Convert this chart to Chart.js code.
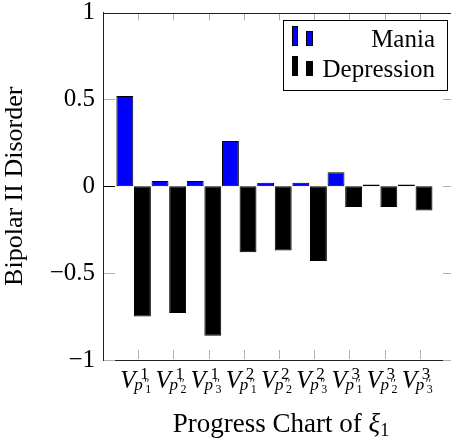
<!DOCTYPE html>
<html>
<head>
<meta charset="utf-8">
<script src="https://cdn.jsdelivr.net/npm/chart.js@4.4.0/dist/chart.umd.min.js"></script>
<style>
  html, body { margin: 0; padding: 0; background: #fff; overflow: hidden; }
  #wrap { width: 451px; height: 443px; overflow: hidden; }
</style>
</head>
<body>
<div id="wrap"><canvas id="barChart" width="460" height="443"></canvas></div>
<script>
// category labels V^{sup}_{p''_{sub}}
const categorySup = ['1', '1', '1', '2', '2', '2', '3', '3', '3'];
const categorySub = ['1', '2', '3', '1', '2', '3', '1', '2', '3'];
const positions = [1, 2, 3, 4, 5, 6, 7, 8, 9];

const maniaValues = [0.52, 0.03, 0.03, 0.26, 0.02, 0.02, 0.08, 0.01, 0.01];
const depressionValues = [-0.75, -0.73, -0.86, -0.38, -0.37, -0.43, -0.12, -0.12, -0.14];

const yTicks = [-1, -0.5, 0, 0.5, 1];

const serif = '"Liberation Serif", "DejaVu Serif", serif';
const tickShift = 0.13; // ticks sit a little right of the bar pairs

function line(ctx, x1, y1, x2, y2) {
    ctx.beginPath();
    ctx.moveTo(x1, y1);
    ctx.lineTo(x2, y2);
    ctx.stroke();
}

const decorations = {
    id: 'decorations',
    afterDraw(chart) {
        const { ctx, chartArea: a, scales: { x, y } } = chart;
        ctx.save();
        ctx.lineWidth = 1;

        // inward tick marks
        positions.forEach(p => {
            const px = Math.round(x.getPixelForValue(p + tickShift)) + 0.5;
            ctx.strokeStyle = '#b0b0b0';
            line(ctx, px, a.bottom - 1, px, a.bottom - 10);
            line(ctx, px, a.top + 1, px, a.top + 8);
        });
        yTicks.forEach(v => {
            const py = Math.round(y.getPixelForValue(v)) + 0.5;
            ctx.strokeStyle = v === 0 ? '#000' : '#b0b0b0';
            line(ctx, a.left + 1, py, a.left + 12, py);
            ctx.strokeStyle = '#b0b0b0';
            line(ctx, a.right - 1, py, a.right - 12, py);
        });

        // top frame line
        ctx.strokeStyle = '#222';
        line(ctx, a.left, Math.round(a.top) + 0.5, a.right, Math.round(a.top) + 0.5);
        line(ctx, Math.round(a.right) + 0.5, a.top, Math.round(a.right) + 0.5, a.bottom);

        // x tick labels
        ctx.fillStyle = '#000';
        ctx.textAlign = 'left';
        ctx.textBaseline = 'alphabetic';
        positions.forEach((p, i) => {
            const px = x.getPixelForValue(p + tickShift);
            const b = a.bottom;
            ctx.font = 'italic 25px ' + serif;
            ctx.fillText('V', px - 18, b + 28);
            ctx.font = '17px ' + serif;
            ctx.fillText(categorySup[i], px + 2, b + 19);
            ctx.font = 'italic 17px ' + serif;
            ctx.fillText('p', px - 4, b + 30);
            ctx.font = '12px ' + serif;
            ctx.fillText('′′', px + 6, b + 27);
            ctx.fillText(categorySub[i], px + 7, b + 33);
        });

        // x axis title
        const t1 = 'Progress Chart of ';
        ctx.font = '27px ' + serif;
        const w1 = ctx.measureText(t1).width;
        ctx.font = 'italic 27px ' + serif;
        const w2 = ctx.measureText('ξ').width;
        ctx.font = '18px ' + serif;
        const w3 = ctx.measureText('1').width;
        let tx = (a.left + a.right) / 2 + 2 - (w1 + w2 + w3) / 2;
        const ty = a.bottom + 72;
        ctx.font = '27px ' + serif;
        ctx.fillText(t1, tx, ty);
        tx += w1;
        ctx.font = 'italic 27px ' + serif;
        ctx.fillText('ξ', tx, ty);
        tx += w2;
        ctx.font = '18px ' + serif;
        ctx.fillText('1', tx, ty + 4);

        // legend
        const lx = 283, ly = 20, lw = 164, lh = 70;
        ctx.fillStyle = '#fff';
        ctx.fillRect(lx, ly, lw, lh);
        ctx.strokeStyle = '#000';
        ctx.strokeRect(lx + 0.5, ly + 0.5, lw, lh);
        const rows = [
            { label: 'Mania', color: '#0000ff', y: ly },
            { label: 'Depression', color: '#000', y: ly + 30 }
        ];
        rows.forEach(r => {
            ctx.fillStyle = r.color;
            ctx.strokeStyle = '#000';
            ctx.fillRect(lx + 9, r.y + 6, 6, 20);
            ctx.strokeRect(lx + 9.5, r.y + 6.5, 5, 19);
            ctx.fillRect(lx + 23, r.y + 11, 7, 15);
            ctx.strokeRect(lx + 23.5, r.y + 11.5, 6, 14);
            ctx.fillStyle = '#000';
            ctx.font = '25px ' + serif;
            ctx.textAlign = 'right';
            ctx.fillText(r.label, lx + lw - 12, r.y + 27);
        });
        ctx.restore();
    }
};

function draw() {
    new Chart(document.getElementById('barChart'), {
        type: 'bar',
        data: {
            labels: positions,
            datasets: [{
                label: 'Mania',
                data: maniaValues,
                backgroundColor: '#0000ff',
                borderColor: '#000',
                borderWidth: 1,
                borderSkipped: false,
                categoryPercentage: 1,
                barPercentage: 0.96
            }, {
                label: 'Depression',
                data: depressionValues,
                backgroundColor: '#000',
                borderColor: '#000',
                borderWidth: 1,
                borderSkipped: false,
                categoryPercentage: 1,
                barPercentage: 0.96
            }]
        },
        options: {
            responsive: false,
            animation: false,
            layout: { padding: { top: 12.5, right: 5, left: 0, bottom: 0 } },
            plugins: { legend: { display: false }, tooltip: { enabled: false } },
            scales: {
                x: {
                    type: 'linear',
                    min: tickShift,
                    max: 10 + tickShift,
                    offset: false,
                    grid: { display: false, drawTicks: false },
                    border: { display: true, color: '#222', width: 1 },
                    ticks: { display: false, stepSize: 1 },
                    afterFit: scale => {
                        scale.height = 83;
                        scale.paddingLeft = 0;
                        scale.paddingRight = 0;
                    }
                },
                y: {
                    min: -1,
                    max: 1,
                    grid: { display: false, drawTicks: false },
                    border: { display: true, color: '#222', width: 1 },
                    afterBuildTicks: scale => { scale.ticks = yTicks.map(v => ({ value: v })); },
                    ticks: {
                        padding: 8,
                        color: '#000',
                        font: { family: serif, size: 25 },
                        callback: v => (v < 0 ? '\u2212' + Math.abs(v) : String(v))
                    },
                    title: {
                        display: true,
                        text: 'Bipolar II Disorder',
                        color: '#000',
                        font: { family: serif, size: 26 },
                        padding: { top: 0, bottom: 0 }
                    },
                    afterFit: scale => {
                        scale.width = 103;
                        scale.paddingTop = 0;
                        scale.paddingBottom = 0;
                    }
                }
            }
        },
        plugins: [decorations]
    });
}

Promise.all([
    document.fonts.load('25px "Liberation Serif"'),
    document.fonts.load('italic 25px "Liberation Serif"')
]).then(draw, draw);
</script>
</body>
</html>
